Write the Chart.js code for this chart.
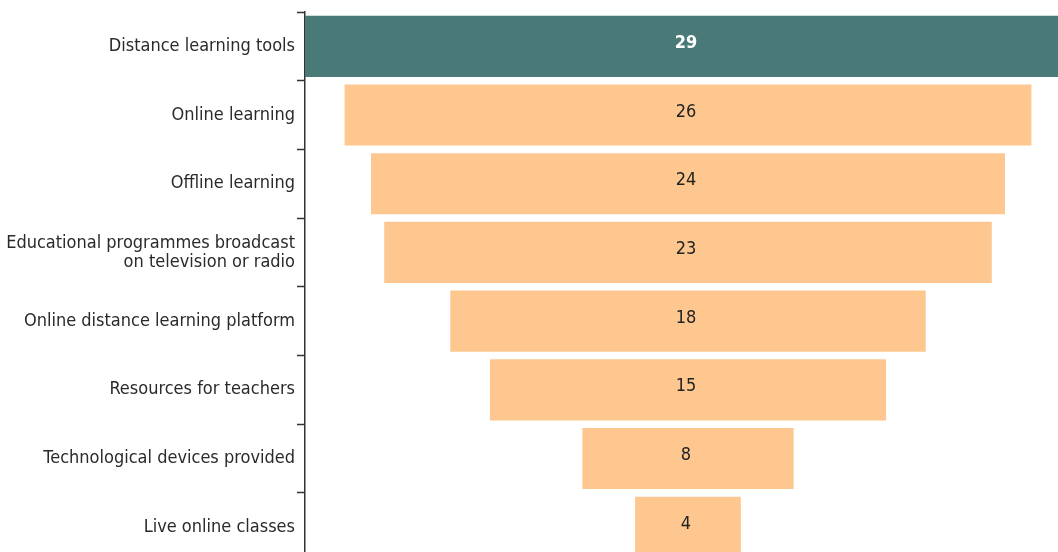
<!DOCTYPE html>
<html>
<head>
<meta charset="utf-8">
<script src="https://cdn.jsdelivr.net/npm/chart.js@4/dist/chart.umd.min.js"></script>
<style>
  html, body { margin: 0; padding: 0; background: #fff; overflow: hidden; }
  #wrap { width: 1071px; height: 573px; }
</style>
</head>
<body>
<div id="wrap"><canvas id="funnelChart" width="1071" height="573"></canvas></div>
<script>
// Share of respondents by type of support measure
const categories = [
    'Distance learning tools',
    'Online learning',
    'Offline learning',
    ['Educational programmes broadcast', 'on television or radio'],
    'Online distance learning platform',
    'Resources for teachers',
    'Technological devices provided',
    'Live online classes'
];
const values = [29, 26, 24, 23, 18, 15, 8, 4];
const barColors = ['#4a7a78', '#fdc78f', '#fdc78f', '#fdc78f', '#fdc78f', '#fdc78f', '#fdc78f', '#fdc78f'];
const labelColors = ['#ffffff', '#222222', '#222222', '#222222', '#222222', '#222222', '#222222', '#222222'];

const FONT = '"Liberation Sans Narrow", "DejaVu Sans Condensed", "Roboto", sans-serif';

// each bar is centred on zero so the rows form a funnel
const funnelData = values.map(v => [-v / 2, v / 2]);

// write the value in the middle of each bar
const valueLabels = {
    id: 'valueLabels',
    afterDatasetsDraw(chart) {
        const ctx = chart.ctx;
        const meta = chart.getDatasetMeta(0);
        ctx.save();
        ctx.textAlign = 'center';
        ctx.textBaseline = 'middle';
        meta.data.forEach((bar, i) => {
            const mid = (bar.x + bar.base) / 2;
            ctx.font = (i === 0 ? 'bold ' : '') + '18px ' + FONT;
            ctx.fillStyle = labelColors[i];
            ctx.fillText(values[i], mid - 2, bar.y - 3);
        });
        ctx.restore();
    }
};

function initChart() {
    const ctx = document.getElementById('funnelChart').getContext('2d');
    new Chart(ctx, {
        type: 'bar',
        data: {
            labels: categories,
            datasets: [{
                data: funnelData,
                backgroundColor: barColors,
                borderWidth: 0,
                barPercentage: 0.89,
                categoryPercentage: 1
            }]
        },
        options: {
            indexAxis: 'y',
            responsive: false,
            animation: false,
            layout: { padding: { top: 12, left: 0, right: 0, bottom: 0 } },
            plugins: {
                legend: { display: false },
                tooltip: { enabled: false }
            },
            scales: {
                x: {
                    min: -14.5,
                    max: 14.5,
                    display: false
                },
                y: {
                    afterFit(scale) { scale.width = 305; },
                    border: { display: true, color: '#333333', width: 1.5 },
                    grid: {
                        drawOnChartArea: false,
                        drawTicks: true,
                        tickLength: 8,
                        tickColor: '#333333',
                        tickWidth: 1.5
                    },
                    ticks: {
                        color: '#2a2a2a',
                        padding: 2,
                        font: { family: FONT, size: 18, lineHeight: 1.05 }
                    }
                }
            }
        },
        plugins: [valueLabels]
    });
}

initChart();
</script>
</body>
</html>
